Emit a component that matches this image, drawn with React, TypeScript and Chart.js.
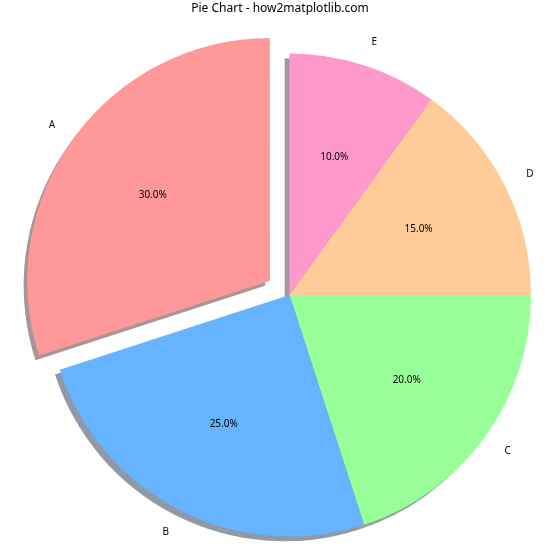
import React, { useEffect, useRef } from 'react';
import { Chart, registerables } from 'chart.js';
import type { Plugin } from 'chart.js';

Chart.register(...registerables);

// data, in matplotlib order (counter-clockwise from the top)
const categories = ['A', 'B', 'C', 'D', 'E'];
const shares = [30, 25, 20, 15, 10];
const sliceColors = ['#ff9999', '#66b3ff', '#99ff99', '#ffcc99', '#ff99cc'];
const explode = [0.1, 0, 0, 0, 0];

const RADIUS = 241.5;
const FONT = '"Noto Sans", "DejaVu Sans", sans-serif';

// chart.js goes clockwise, so flip everything
const labels = [...categories].reverse();
const values = [...shares].reverse();
const colors = [...sliceColors].reverse();
// chart.js moves a slice by offset / 4
const offsets = [...explode].reverse().map(e => e * RADIUS * 4);

function shadowOf(hex: string) {
    const n = parseInt(hex.slice(1), 16);
    const r = Math.round(((n >> 16) & 255) * 0.3);
    const g = Math.round(((n >> 8) & 255) * 0.3);
    const b = Math.round((n & 255) * 0.3);
    return `rgba(${r}, ${g}, ${b}, 0.5)`;
}

function arcCenter(arc: any) {
    const p = arc.getProps(['x', 'y', 'startAngle', 'endAngle', 'outerRadius'], true);
    const mid = (p.startAngle + p.endAngle) / 2;
    const off = (arc.options.offset || 0) / 4;
    return {
        x: p.x + Math.cos(mid) * off,
        y: p.y + Math.sin(mid) * off,
        mid,
        start: p.startAngle,
        end: p.endAngle,
        r: p.outerRadius
    };
}

const pieExtras: Plugin<'pie'> = {
    id: 'pieExtras',
    beforeDatasetsDraw(chart) {
        // matplotlib style shadow, under all wedges
        const ctx = chart.ctx;
        const meta = chart.getDatasetMeta(0);
        const sh = RADIUS * 0.02;
        ctx.save();
        meta.data.forEach((arc: any, i: number) => {
            const c = arcCenter(arc);
            ctx.beginPath();
            ctx.moveTo(c.x - sh, c.y + sh);
            ctx.arc(c.x - sh, c.y + sh, c.r, c.start, c.end);
            ctx.closePath();
            ctx.fillStyle = shadowOf(colors[i]);
            ctx.fill();
        });
        ctx.restore();
    },
    afterDraw(chart) {
        const ctx = chart.ctx;
        const meta = chart.getDatasetMeta(0);
        const total = values.reduce((a, b) => a + b, 0);
        ctx.save();
        ctx.fillStyle = '#000';
        ctx.textBaseline = 'middle';
        ctx.font = `10px ${FONT}`;
        meta.data.forEach((arc: any, i: number) => {
            const c = arcCenter(arc);
            const cos = Math.cos(c.mid);
            const sin = Math.sin(c.mid);
            ctx.textAlign = cos > 0 ? 'left' : 'right';
            ctx.fillText(labels[i], c.x + cos * c.r * 1.1, c.y + sin * c.r * 1.1);
            ctx.textAlign = 'center';
            const pct = ((values[i] / total) * 100).toFixed(1) + '%';
            ctx.fillText(pct, c.x + cos * c.r * 0.6, c.y + sin * c.r * 0.6);
        });
        ctx.font = `12px ${FONT}`;
        ctx.textAlign = 'center';
        ctx.fillText('Pie Chart - how2matplotlib.com', chart.width / 2, 9);
        ctx.restore();
    }
};

const App: React.FC = () => {
    const canvasRef = useRef<HTMLCanvasElement | null>(null);

    useEffect(() => {
        document.body.style.margin = '0';
        const ctx = canvasRef.current?.getContext('2d');
        if (!ctx) return;

        const chart = new Chart(ctx, {
            type: 'pie',
            data: {
                labels,
                datasets: [{
                    data: values,
                    backgroundColor: colors,
                    borderWidth: 0,
                    offset: offsets,
                    hoverOffset: 0
                }]
            },
            options: {
                animation: false,
                responsive: false,
                radius: RADIUS,
                rotation: 0,
                layout: { padding: { left: 19, right: 0, top: 30, bottom: 0 } },
                plugins: {
                    legend: { display: false },
                    tooltip: { enabled: false },
                    title: { display: false }
                }
            },
            plugins: [pieExtras]
        });

        return () => {
            chart.destroy();
        };
    }, []);

    return (
        <div style={{ width: 560, height: 560, background: '#fff' }}>
            <canvas ref={canvasRef} width={560} height={560} />
        </div>
    );
};

export default App;
